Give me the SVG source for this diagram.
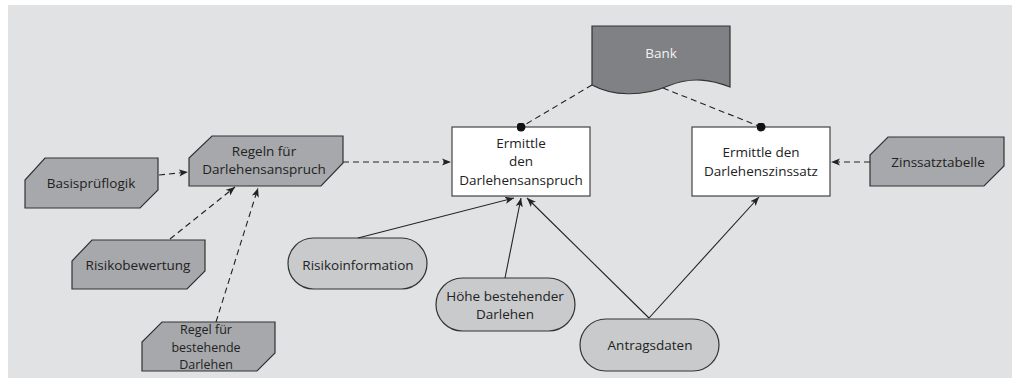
<svg xmlns="http://www.w3.org/2000/svg" width="1012" height="386" viewBox="0 0 1012 386">
  <defs>
    <style>
      .txt { font-family: "Open Sans", "Noto Sans", sans-serif; font-size: 13.5px; fill: #222; text-anchor: middle; }
      .small { font-size: 12.5px; }
      .light { fill: #f2f2f2; }
      .hex { fill: #a7a8ab; stroke: #333; stroke-width: 1.2; }
      .doc { fill: #808184; stroke: #333; stroke-width: 1.2; }
      .pill { fill: #c9cacc; stroke: #333; stroke-width: 1.2; }
      .fn { fill: #ffffff; stroke: #444; stroke-width: 1.2; }
      .dash { fill: none; stroke: #222; stroke-width: 1.1; stroke-dasharray: 6 4; }
      .solid { fill: none; stroke: #222; stroke-width: 1.1; }
    </style>
    <marker id="arrow" viewBox="0 0 10 10" refX="10" refY="5" markerWidth="9" markerHeight="9" markerUnits="userSpaceOnUse" orient="auto">
      <path d="M0,1 L10,5 L0,9 L2.5,5 Z" fill="#222"/>
    </marker>
    <marker id="dot" viewBox="0 0 10 10" refX="5" refY="5" markerWidth="9" markerHeight="9" markerUnits="userSpaceOnUse">
      <circle cx="5" cy="5" r="5" fill="#111"/>
    </marker>
  </defs>

  <rect x="0" y="0" width="1012" height="386" fill="#ffffff"/>
  <rect x="8" y="5" width="1004" height="373" fill="#e1e2e4"/>

  <!-- information carrier -->
  <g id="bank">
    <path class="doc" d="M592,26 H730 V87 C712,80 692,76 668,86 C642,97 612,96 592,85 Z"/>
    <text class="txt light" x="661" y="58">Bank</text>
  </g>

  <!-- functions -->
  <g id="ermittle-anspruch">
    <rect class="fn" x="452" y="127" width="138" height="69"/>
    <text class="txt" x="521" y="147.7">Ermittle</text>
    <text class="txt" x="521" y="166.2">den</text>
    <text class="txt" x="521" y="184.7">Darlehensanspruch</text>
  </g>
  <g id="ermittle-zinssatz">
    <rect class="fn" x="692" y="127" width="138" height="69"/>
    <text class="txt" x="761" y="157">Ermittle den</text>
    <text class="txt" x="761" y="175.5">Darlehenszinssatz</text>
  </g>

  <!-- business rules -->
  <g id="zinssatztabelle">
    <path class="hex" d="M888,137 H1004 V166 L984,186 H870 V155 Z"/>
    <text class="txt" x="938" y="166.5">Zinssatztabelle</text>
  </g>
  <g id="regeln-anspruch">
    <path class="hex" d="M212,136 H343 V163 L321,186 H189 V158 Z"/>
    <text class="txt" x="264" y="155.7">Regeln für</text>
    <text class="txt" x="264" y="174.2">Darlehensanspruch</text>
  </g>
  <g id="basispruefloglik">
    <path class="hex" d="M45,158 H158 V190 L140,208 H25 V180 Z"/>
    <text class="txt" x="91" y="187.5">Basisprüflogik</text>
  </g>
  <g id="risikobewertung">
    <path class="hex" d="M92,240 H205 V271 L187,289 H72 V261 Z"/>
    <text class="txt" x="138" y="269.5">Risikobewertung</text>
  </g>
  <g id="regel-bestehende">
    <path class="hex" d="M162,322 H275 V353 L257,371 H142 V342 Z"/>
    <text class="txt small" x="206" y="334.4">Regel für</text>
    <text class="txt small" x="206" y="351.5">bestehende</text>
    <text class="txt small" x="206" y="368.6">Darlehen</text>
  </g>

  <!-- data -->
  <g id="risikoinformation">
    <rect class="pill" x="288" y="238" width="139" height="51" rx="25.5" ry="25.5"/>
    <text class="txt" x="358" y="269.5">Risikoinformation</text>
  </g>
  <g id="hoehe-darlehen">
    <rect class="pill" x="436" y="278" width="139" height="53" rx="26.5" ry="26.5"/>
    <text class="txt" x="505" y="300.7">Höhe bestehender</text>
    <text class="txt" x="505" y="319.2">Darlehen</text>
  </g>
  <g id="antragsdaten">
    <rect class="pill" x="580" y="319" width="139" height="52" rx="26" ry="26"/>
    <text class="txt" x="650" y="349.7">Antragsdaten</text>
  </g>

  <!-- connectors -->
  <g id="connectors">
    <line class="dash" x1="159" y1="175" x2="188" y2="172" marker-end="url(#arrow)"/>
    <line class="dash" x1="170" y1="239" x2="235" y2="187" marker-end="url(#arrow)"/>
    <line class="dash" x1="216" y1="322" x2="258" y2="188" marker-end="url(#arrow)"/>
    <line class="dash" x1="343" y1="162" x2="451" y2="162" marker-end="url(#arrow)"/>
    <line class="dash" x1="870" y1="162" x2="831" y2="162" marker-end="url(#arrow)"/>
    <line class="dash" x1="592" y1="85" x2="521" y2="127" marker-end="url(#dot)"/>
    <line class="dash" x1="663" y1="88" x2="761" y2="127" marker-end="url(#dot)"/>
    <line class="solid" x1="358" y1="238" x2="514" y2="198" marker-end="url(#arrow)"/>
    <line class="solid" x1="505" y1="278" x2="521" y2="198" marker-end="url(#arrow)"/>
    <line class="solid" x1="649" y1="318" x2="527" y2="198" marker-end="url(#arrow)"/>
    <line class="solid" x1="649" y1="318" x2="759" y2="197" marker-end="url(#arrow)"/>
  </g>
</svg>
